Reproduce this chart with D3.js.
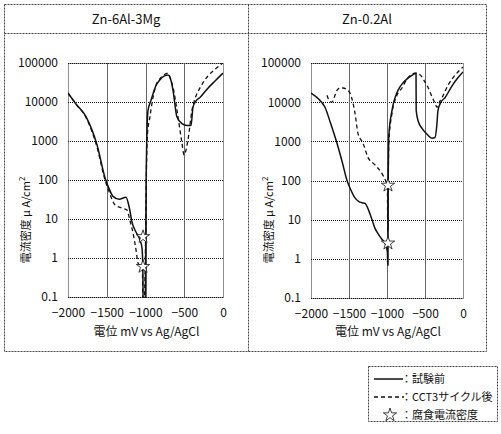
<!DOCTYPE html>
<html>
<head>
<meta charset="utf-8">
<script src="https://cdn.jsdelivr.net/npm/d3@7"></script>
<style>
body { margin: 0; background: #fff; }
text { font-family: "Noto Sans CJK JP", "Liberation Sans", sans-serif; fill: #111; }
</style>
</head>
<body>
<script>
// mV vs Ag/AgCl, current density uA/cm2
var titles = ["Zn-6Al-3Mg", "Zn-0.2Al"];
var xTicks = [-2000, -1500, -1000, -500, 0];
var yTicks = [0.1, 1, 10, 100, 1000, 10000, 100000];

var aBeforeX = [-2000,-1900,-1768,-1626,-1520,-1470,-1419,-1340,-1252,-1210,-1174,-1120,-1071,-1045,-1034,-1030,-1005,-998,-992,-968,-929,-870,-813,-760,-710,-670,-645,-594,-530,-465,-413,-387,-350,-297,-200,-100,0];
var aBeforeY = [17000,9000,4200,800,110,60,38,32,36,20,8.3,4.5,2.9,1.8,0.5,0.05,0.05,1,100,6000,11000,25000,37000,46000,49000,35000,20000,4100,2800,2500,2500,7400,10500,13000,22000,35000,55000];

var aAfterX = [-2000,-1900,-1768,-1626,-1522,-1470,-1393,-1300,-1239,-1200,-1161,-1120,-1097,-1060,-1040,-1032,-1020,-1002,-990,-975,-942,-916,-870,-813,-760,-710,-670,-645,-594,-530,-503,-452,-400,-350,-297,-200,-100,0];
var aAfterY = [17000,9000,4000,700,100,50,23,19,17,9,4.4,1.5,0.74,0.6,0.5,0.05,0.05,1,100,1500,4200,9400,25000,40000,50000,55000,35000,24000,6200,900,440,1070,6200,14000,23000,45000,70000,100000];

var bBeforeX = [-2000,-1900,-1816,-1740,-1658,-1590,-1526,-1480,-1421,-1370,-1329,-1289,-1240,-1197,-1158,-1118,-1070,-1026,-995,-991,-987,-984,-975,-934,-855,-790,-724,-660,-618,-616,-590,-539,-470,-408,-368,-345,-329,-290,-237,-150,-75,0];
var bBeforeY = [17000,12000,7400,2800,890,300,100,60,36,29,27,26,17,10,6,4.4,3.2,2.5,1.5,0.7,0.7,100,1500,6200,20000,31000,41000,50000,55000,6200,3300,2150,1500,1200,1250,2500,6200,10000,13000,25000,40000,59000];

var bAfterX = [-1790,-1760,-1724,-1690,-1658,-1620,-1579,-1530,-1487,-1450,-1421,-1382,-1316,-1250,-1158,-1066,-1010,-995,-990,-987,-984,-975,-934,-870,-803,-740,-680,-632,-566,-510,-461,-410,-368,-342,-300,-276,-237,-197,-100,0];
var bAfterY = [15000,11000,10000,14000,20000,23000,23000,21000,17000,10000,5200,1600,900,390,250,150,90,75,5,5,75,1000,5200,15000,23000,38000,50000,55000,50000,35000,24000,14000,9400,7400,11000,13000,19000,27000,50000,79000];

var aStarsX = [-1032, -1032], aStarsY = [3.5, 0.6];
var bStarsX = [-987, -987], bStarsY = [75, 2.5];

var legendLabels = ["：試験前", "：CCT3サイクル後", "：腐食電流密度"];

var width = 501, height = 434;
var svg = d3.select("body").append("svg")
    .attr("width", width)
    .attr("height", height);

function zip(xs, ys) { return xs.map(function (x, i) { return [x, ys[i]]; }); }

var panels = [
  { title: titles[0], cx: 126, x0: 68, x1: 223, y0: 297, y1: 63, before: zip(aBeforeX, aBeforeY), after: zip(aAfterX, aAfterY), stars: zip(aStarsX, aStarsY) },
  { title: titles[1], cx: 367, x0: 311, x1: 463, y0: 298, y1: 63, before: zip(bBeforeX, bBeforeY), after: zip(bAfterX, bAfterY), stars: zip(bStarsX, bStarsY) }
];

// table frame
var frame = svg.append("g").attr("fill", "none").attr("stroke", "#444").attr("stroke-width", 1).attr("stroke-dasharray", "2,1");
frame.append("rect").attr("x", 4.5).attr("y", 4.5).attr("width", 482).attr("height", 347);
frame.append("line").attr("x1", 4.5).attr("x2", 486.5).attr("y1", 33.5).attr("y2", 33.5);
frame.append("line").attr("x1", 248.5).attr("x2", 248.5).attr("y1", 4.5).attr("y2", 351.5);

panels.forEach(function (p, i) {
  var x = d3.scaleLinear().domain([-2000, 0]).range([p.x0, p.x1]);
  var y = d3.scaleLog().domain([0.1, 100000]).range([p.y0, p.y1]);
  var g = svg.append("g");

  g.append("text").attr("x", p.cx).attr("y", 24).attr("text-anchor", "middle")
    .attr("font-size", 13).text(p.title);

  g.selectAll(".hg").data(yTicks).enter().append("line")
    .attr("x1", p.x0).attr("x2", p.x1)
    .attr("y1", function (d) { return Math.round(y(d)) + 0.5; })
    .attr("y2", function (d) { return Math.round(y(d)) + 0.5; })
    .attr("stroke", "#111").attr("stroke-dasharray", "1,1");
  g.selectAll(".vg").data(xTicks.slice(1, 4)).enter().append("line")
    .attr("x1", function (d) { return Math.round(x(d)) + 0.5; })
    .attr("x2", function (d) { return Math.round(x(d)) + 0.5; })
    .attr("y1", p.y1).attr("y2", p.y0)
    .attr("stroke", "#666");
  g.append("rect").attr("x", p.x0 + 0.5).attr("y", p.y1 + 0.5)
    .attr("width", p.x1 - p.x0).attr("height", p.y0 - p.y1)
    .attr("fill", "none").attr("stroke", "#222").attr("stroke-dasharray", "1,1");

  var yAxis = g.append("g").attr("transform", "translate(" + p.x0 + ",0)")
    .call(d3.axisLeft(y).tickValues(yTicks).tickSize(0).tickPadding(10).tickFormat(function (d) { return String(d); }));
  yAxis.select(".domain").remove();
  yAxis.selectAll("text").attr("font-size", 12).attr("font-family", null).attr("fill", "#111");

  var xAxis = g.append("g").attr("transform", "translate(0," + p.y0 + ")")
    .call(d3.axisBottom(x).tickValues(xTicks).tickSize(0).tickPadding(11).tickFormat(function (d) { return d < 0 ? "\u2212" + Math.abs(d) : d; }));
  xAxis.select(".domain").remove();
  xAxis.selectAll("text").attr("font-size", 12).attr("font-family", null).attr("fill", "#111");

  g.append("text").attr("x", (p.x0 + p.x1) / 2 + 1).attr("y", 336).attr("text-anchor", "middle")
    .attr("font-size", 12).text("電位 mV vs Ag/AgCl");

  var yl = g.append("text").attr("transform", "translate(" + (p.x0 - 38) + ",220) rotate(-90)")
    .attr("text-anchor", "middle").attr("font-size", 11);
  yl.append("tspan").text("電流密度 μ A/cm");
  yl.append("tspan").attr("font-size", 8).attr("dy", -5).text("2");

  var clipId = "clip" + i;
  svg.append("clipPath").attr("id", clipId).append("rect")
    .attr("x", p.x0).attr("y", p.y1).attr("width", p.x1 - p.x0).attr("height", p.y0 - p.y1 + 1);

  var line = d3.line().x(function (d) { return x(d[0]); }).y(function (d) { return y(d[1]); }).curve(d3.curveMonotoneX);
  var plot = g.append("g").attr("clip-path", "url(#" + clipId + ")");
  plot.append("path").datum(p.after).attr("d", line)
    .attr("fill", "none").attr("stroke", "#111").attr("stroke-width", 1.3).attr("stroke-dasharray", "4,3");
  plot.append("path").datum(p.before).attr("d", line)
    .attr("fill", "none").attr("stroke", "#111").attr("stroke-width", 1.5);

  g.selectAll(".star").data(p.stars).enter().append("path")
    .attr("transform", function (d) { return "translate(" + x(d[0]) + "," + y(d[1]) + ")"; })
    .attr("d", d3.symbol().type(d3.symbolStar).size(55))
    .attr("fill", "#fff").attr("stroke", "#111").attr("stroke-width", 0.8);
});

// legend
var lg = svg.append("g");
lg.append("rect").attr("x", 368.5).attr("y", 366.5).attr("width", 129).attr("height", 55)
  .attr("fill", "none").attr("stroke", "#444").attr("stroke-dasharray", "2,1");
var rows = [379, 397, 415];
lg.append("line").attr("x1", 374).attr("x2", 403).attr("y1", rows[0]).attr("y2", rows[0])
  .attr("stroke", "#111").attr("stroke-width", 1.5);
lg.append("line").attr("x1", 374).attr("x2", 404).attr("y1", rows[1]).attr("y2", rows[1])
  .attr("stroke", "#111").attr("stroke-width", 1.3).attr("stroke-dasharray", "4,3");
lg.append("path").attr("transform", "translate(390," + rows[2] + ")")
  .attr("d", d3.symbol().type(d3.symbolStar).size(55))
  .attr("fill", "#fff").attr("stroke", "#111").attr("stroke-width", 0.8);
lg.selectAll(".lt").data(legendLabels).enter().append("text")
  .attr("x", 401).attr("y", function (d, i) { return rows[i] + 4; })
  .attr("font-size", 11).text(function (d) { return d; });
</script>
</body>
</html>
